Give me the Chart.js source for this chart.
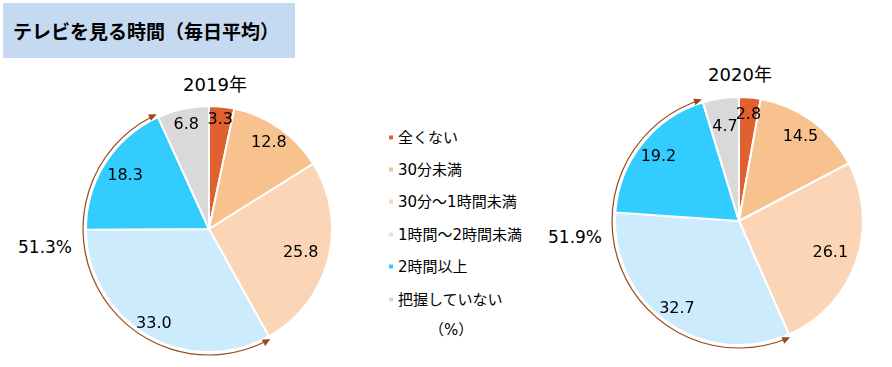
<!DOCTYPE html>
<html>
<head>
<meta charset="utf-8">
<script src="https://cdn.jsdelivr.net/npm/chart.js@4"></script>
<style>
  body {
    margin: 0;
    width: 892px;
    height: 367px;
    position: relative;
    overflow: hidden;
    background: #fff;
    color: #000;
    font-family: "DejaVu Sans", "Noto Sans CJK JP", sans-serif;
  }
  .title {
    position: absolute;
    left: 3px;
    top: 3px;
    width: 292px;
    height: 55px;
    box-sizing: border-box;
    padding-left: 10px;
    background: #c5d9f1;
    font: bold 19px "Noto Sans CJK JP", sans-serif;
    line-height: 55px;
  }
  .abs { position: absolute; white-space: nowrap; }
  .year { font-size: 18px; transform: translate(-50%, -50%); }
  .total { font-size: 17px; transform: translate(0, -50%); }
  canvas { position: absolute; }
  #legend { position: absolute; left: 389px; top: 0; }
  .item { position: absolute; left: 0; font-size: 15px; transform: translateY(-50%); white-space: nowrap; }
  .item i { display: inline-block; width: 4px; height: 4px; margin-right: 5px; vertical-align: middle; position: relative; top: -1px; }
</style>
</head>
<body>
<div class="title">テレビを見る時間（毎日平均）</div>
<div class="abs year" style="left:215px;top:83px">2019年</div>
<div class="abs year" style="left:740px;top:73px">2020年</div>
<div class="abs total" id="total2019" style="left:18px;top:247px"></div>
<div class="abs total" id="total2020" style="left:548px;top:237px"></div>
<canvas id="pie2019" width="270" height="270" style="left:74px;top:94px"></canvas>
<canvas id="pie2020" width="270" height="270" style="left:604px;top:86px"></canvas>
<div id="legend"></div>
<script>
const categories = ['全くない', '30分未満', '30分〜1時間未満', '1時間〜2時間未満', '2時間以上', '把握していない'];
const values2019 = [3.3, 12.8, 25.8, 33.0, 18.3, 6.8];
const values2020 = [2.8, 14.5, 26.1, 32.7, 19.2, 4.7];

const COLORS = ['#e0602f', '#f8c28f', '#fbd5b5', '#ccecfd', '#33ccff', '#d9d9d9'];
const ARROW_COLOR = '#9a4a17';
const LEGEND_ROWS = [136, 168, 200, 233, 265, 298];

// how far out each value label sits, as a share of the radius
const labelPos2019 = [0.89, 0.85, 0.77, 0.89, 0.81, 0.87];
const labelPos2020 = [0.86, 0.84, 0.78, 0.87, 0.83, 0.77];

// the two slices summed by the arrow: 1時間〜2時間未満 + 2時間以上
const SUM_FROM = 3;
const SUM_TO = 4;

const pieExtras = (labelPos) => ({
  id: 'pieExtras',
  afterDatasetsDraw(chart) {
    const ctx = chart.ctx;
    const arcs = chart.getDatasetMeta(0).data;
    const values = chart.data.datasets[0].data;
    ctx.save();
    ctx.fillStyle = '#000';
    ctx.font = '16px "DejaVu Sans", sans-serif';
    ctx.textAlign = 'center';
    ctx.textBaseline = 'middle';
    arcs.forEach((arc, i) => {
      const p = arc.getProps(['x', 'y', 'startAngle', 'endAngle', 'outerRadius'], true);
      const mid = (p.startAngle + p.endAngle) / 2;
      const r = p.outerRadius * labelPos[i];
      ctx.fillText(values[i].toFixed(1), p.x + Math.cos(mid) * r, p.y + Math.sin(mid) * r);
    });

    // bracket arc with arrowheads
    const a = arcs[SUM_FROM].getProps(['x', 'y', 'startAngle', 'outerRadius'], true);
    const b = arcs[SUM_TO].getProps(['endAngle'], true);
    const R = a.outerRadius + 3;
    const start = a.startAngle;
    const end = b.endAngle;
    ctx.strokeStyle = ARROW_COLOR;
    ctx.fillStyle = ARROW_COLOR;
    ctx.lineWidth = 1.2;
    ctx.beginPath();
    ctx.arc(a.x, a.y, R, start + 0.03, end - 0.03);
    ctx.stroke();
    const head = (ang, dir) => {
      const tx = a.x + Math.cos(ang) * R;
      const ty = a.y + Math.sin(ang) * R;
      // tangent pointing along dir (+1 clockwise, -1 counter-clockwise)
      const dx = -Math.sin(ang) * dir;
      const dy = Math.cos(ang) * dir;
      ctx.beginPath();
      ctx.moveTo(tx, ty);
      ctx.lineTo(tx - dx * 8 - dy * 3.5, ty - dy * 8 + dx * 3.5);
      ctx.lineTo(tx - dx * 8 + dy * 3.5, ty - dy * 8 - dx * 3.5);
      ctx.closePath();
      ctx.fill();
    };
    head(start, -1);
    head(end, 1);
    ctx.restore();
  },
});

const makePie = (id, values, labelPos, padding) => {
  return new Chart(document.getElementById(id), {
    type: 'pie',
    data: {
      labels: categories,
      datasets: [{
        data: values,
        backgroundColor: COLORS,
        borderColor: '#fff',
        borderWidth: 2,
      }],
    },
    options: {
      responsive: false,
      animation: false,
      layout: { padding: padding },
      plugins: {
        legend: { display: false },
        tooltip: { enabled: false },
      },
    },
    plugins: [pieExtras(labelPos)],
  });
};

makePie('pie2019', values2019, labelPos2019, 11);
makePie('pie2020', values2020, labelPos2020, 10);

document.getElementById('total2019').innerText =
  (values2019[SUM_FROM] + values2019[SUM_TO]).toFixed(1) + '%';
document.getElementById('total2020').innerText =
  (values2020[SUM_FROM] + values2020[SUM_TO]).toFixed(1) + '%';

const legend = document.getElementById('legend');
categories.forEach((name, i) => {
  let div = document.createElement('div');
  div.className = 'item';
  div.style.top = LEGEND_ROWS[i] + 'px';
  let sw = document.createElement('i');
  sw.style.background = COLORS[i];
  div.appendChild(sw);
  div.appendChild(document.createTextNode(name));
  legend.appendChild(div);
});
let unit = document.createElement('div');
unit.className = 'item';
unit.style.top = '328px';
unit.style.left = '40px';
unit.innerText = '（%）';
legend.appendChild(unit);
</script>
</body>
</html>
